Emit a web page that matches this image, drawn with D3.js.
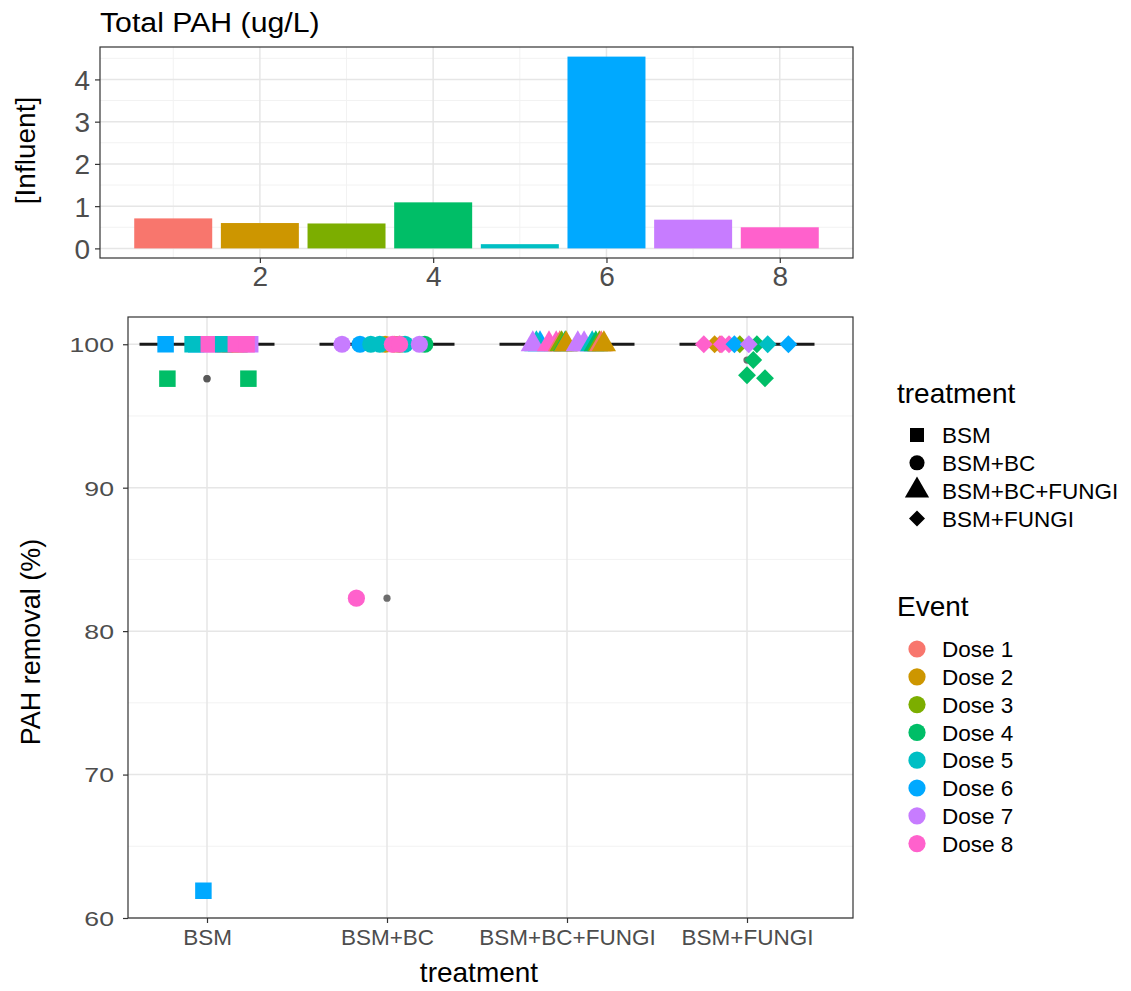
<!DOCTYPE html>
<html>
<head>
<meta charset="utf-8">
<script src="https://cdn.jsdelivr.net/npm/d3@7"></script>
<style>
  body { margin: 0; background: #fff; }
  svg { display: block; font-family: "Liberation Sans", Arial, sans-serif; }
</style>
</head>
<body>
<svg id="chart" width="1131" height="991"></svg>
<script>
// ---------------- DATA ----------------
const doses = ["Dose 1", "Dose 2", "Dose 3", "Dose 4", "Dose 5", "Dose 6", "Dose 7", "Dose 8"];
const doseColors = ["#F8766D", "#CD9600", "#7CAE00", "#00BE67", "#00BFC4", "#00A9FF", "#C77CFF", "#FF61CC"];
const doseNumbers = [1, 2, 3, 4, 5, 6, 7, 8];
const influentPAH = [0.71, 0.60, 0.59, 1.09, 0.10, 4.54, 0.68, 0.50];
const topXTicks = [2, 4, 6, 8];
const topYTicks = [0, 1, 2, 3, 4];

const treatments = ["BSM", "BSM+BC", "BSM+BC+FUNGI", "BSM+FUNGI"];
const removalYTicks = [60, 70, 80, 90, 100];

// points: dose index (1-8), horizontal jitter (fraction of category step), removal (%)
const bsmDose   = [2, 3, 1, 6, 7, 5, 8, 5, 7, 8, 8, 6, 4, 4, 6];
const bsmJitter = [0.10, 0.18, 0.13, -0.06, 0.03, -0.08, 0.01, 0.09, 0.24, 0.16, 0.22, -0.23, -0.22, 0.23, -0.02];
const bsmValue  = [100, 100, 100, 100, 100, 100, 100, 100, 100, 100, 100, 100, 97.6, 97.6, 61.9];

const bcDose   = [1, 2, 3, 4, 7, 6, 5, 5, 5, 7, 8, 8, 8];
const bcJitter = [0.04, -0.01, 0.07, 0.21, -0.25, -0.15, -0.09, -0.04, 0.10, 0.18, 0.03, 0.07, -0.17];
const bcValue  = [100, 100, 100, 100, 100, 100, 100, 100, 100, 100, 100, 100, 82.3];

const bcfDose   = [6, 5, 7, 8, 8, 1, 3, 4, 2, 7, 7, 5, 4, 3, 1, 2];
const bcfJitter = [-0.15, -0.17, -0.19, -0.10, -0.06, -0.04, -0.03, -0.01, -0.005, 0.06, 0.095, 0.14, 0.16, 0.18, 0.19, 0.205];
const bcfValue  = [100, 100, 100, 100, 100, 100, 100, 100, 100, 100, 100, 100, 100, 100, 100, 100];

const bfDose   = [3, 1, 2, 8, 8, 8, 6, 4, 7, 5, 6, 4, 4, 4];
const bfJitter = [-0.04, -0.15, -0.18, -0.24, -0.14, -0.10, -0.07, 0.055, 0.01, 0.115, 0.23, 0.035, 0.0, 0.10];
const bfValue  = [100, 100, 100, 100, 100, 100, 100, 100, 100, 100, 100, 98.9, 97.84, 97.63];

// ---------------- BUILD ----------------
const svg = d3.select("#chart");
const tickColor = "#4D4D4D";
const gridMajor = "#E6E6E6";
const gridMinor = "#F2F2F2";
const borderColor = "#333333";
const FONT = "'Liberation Sans', Arial, sans-serif";

// ===== TOP PANEL =====
const pT = { left: 100, right: 853, top: 47, bottom: 258 };
const xTop = d3.scaleLinear().domain([0.155, 8.845]).range([pT.left, pT.right]);
const yTop = d3.scaleLinear().domain([-0.2275, 4.7675]).range([pT.bottom, pT.top]);

const gTop = svg.append("g");
gTop.selectAll(".tminx").data([1, 3, 5, 7]).join("line")
  .attr("x1", d => xTop(d)).attr("x2", d => xTop(d))
  .attr("y1", pT.top).attr("y2", pT.bottom)
  .attr("stroke", gridMinor).attr("stroke-width", 1);
gTop.selectAll(".tminy").data([0.5, 1.5, 2.5, 3.5, 4.5]).join("line")
  .attr("x1", pT.left).attr("x2", pT.right)
  .attr("y1", d => yTop(d)).attr("y2", d => yTop(d))
  .attr("stroke", gridMinor).attr("stroke-width", 1);
gTop.selectAll(".tmajx").data(topXTicks).join("line")
  .attr("x1", d => xTop(d)).attr("x2", d => xTop(d))
  .attr("y1", pT.top).attr("y2", pT.bottom)
  .attr("stroke", gridMajor).attr("stroke-width", 1.5);
gTop.selectAll(".tmajy").data(topYTicks).join("line")
  .attr("x1", pT.left).attr("x2", pT.right)
  .attr("y1", d => yTop(d)).attr("y2", d => yTop(d))
  .attr("stroke", gridMajor).attr("stroke-width", 1.5);

gTop.selectAll("rect.bar").data(influentPAH).join("rect")
  .attr("class", "bar")
  .attr("x", (d, i) => xTop(doseNumbers[i] - 0.45))
  .attr("width", (d, i) => xTop(doseNumbers[i] + 0.45) - xTop(doseNumbers[i] - 0.45))
  .attr("y", d => yTop(d))
  .attr("height", d => yTop(0) - yTop(d))
  .attr("fill", (d, i) => doseColors[i]);

gTop.append("rect")
  .attr("x", pT.left).attr("y", pT.top)
  .attr("width", pT.right - pT.left).attr("height", pT.bottom - pT.top)
  .attr("fill", "none").attr("stroke", borderColor).attr("stroke-width", 1.2);

const axTopX = gTop.append("g").attr("transform", `translate(0,${pT.bottom})`)
  .call(d3.axisBottom(xTop).tickValues(topXTicks).tickSize(5).tickPadding(3).tickFormat(d3.format("d")));
const axTopY = gTop.append("g").attr("transform", `translate(${pT.left},0)`)
  .call(d3.axisLeft(yTop).tickValues(topYTicks).tickSize(5).tickPadding(5).tickFormat(d3.format("d")));
[axTopX, axTopY].forEach(ax => {
  ax.select(".domain").remove();
  ax.selectAll(".tick line").attr("stroke", borderColor).attr("stroke-width", 1.2);
  ax.selectAll(".tick text").attr("fill", tickColor).style("font-size", "28px").style("font-family", FONT);
});
axTopY.selectAll(".tick text").attr("dy", "0.36em");

svg.append("text").attr("transform", "translate(100,32) scale(1.12,1)")
  .style("font-size", "27px").attr("fill", "#000").text("Total PAH (ug/L)");
svg.append("text")
  .attr("transform", `translate(35,${(pT.top + pT.bottom) / 2 - 2}) rotate(-90)`)
  .attr("text-anchor", "middle")
  .style("font-size", "28px").attr("fill", "#000").text("[Influent]");

// ===== BOTTOM PANEL =====
const pB = { left: 128, right: 853, top: 317, bottom: 918 };
const xBot = d3.scalePoint().domain(treatments).range([207, 747]);
const step = xBot.step();
const yBot = d3.scaleLinear().domain([60.0, 101.9]).range([pB.bottom, pB.top]);

const gBot = svg.append("g");
gBot.selectAll(".bminy").data([65, 75, 85, 95]).join("line")
  .attr("x1", pB.left).attr("x2", pB.right)
  .attr("y1", d => yBot(d)).attr("y2", d => yBot(d))
  .attr("stroke", gridMinor).attr("stroke-width", 1);
gBot.selectAll(".bmajy").data(removalYTicks).join("line")
  .attr("x1", pB.left).attr("x2", pB.right)
  .attr("y1", d => yBot(d)).attr("y2", d => yBot(d))
  .attr("stroke", gridMajor).attr("stroke-width", 1.5);
gBot.selectAll(".bmajx").data(treatments).join("line")
  .attr("x1", d => xBot(d)).attr("x2", d => xBot(d))
  .attr("y1", pB.top).attr("y2", pB.bottom)
  .attr("stroke", gridMajor).attr("stroke-width", 1.5);

const groups = [
  { t: treatments[0], dose: bsmDose, jit: bsmJitter, val: bsmValue, shape: "square" },
  { t: treatments[1], dose: bcDose, jit: bcJitter, val: bcValue, shape: "circle" },
  { t: treatments[2], dose: bcfDose, jit: bcfJitter, val: bcfValue, shape: "triangle" },
  { t: treatments[3], dose: bfDose, jit: bfJitter, val: bfValue, shape: "diamond" }
];

groups.forEach(g => {
  const v = g.val.slice().sort(d3.ascending);
  const q1 = d3.quantile(v, 0.25), q3 = d3.quantile(v, 0.75), med = d3.quantile(v, 0.5);
  const iqr = q3 - q1;
  const lo = q1 - 1.5 * iqr, hi = q3 + 1.5 * iqr;
  const inside = v.filter(d => d >= lo && d <= hi);
  const wLo = d3.min(inside), wHi = d3.max(inside);
  const cx = xBot(g.t), half = 0.375 * step;
  gBot.append("line").attr("x1", cx).attr("x2", cx).attr("y1", yBot(wHi)).attr("y2", yBot(q3))
    .attr("stroke", "#333").attr("stroke-width", 1.2);
  gBot.append("line").attr("x1", cx).attr("x2", cx).attr("y1", yBot(wLo)).attr("y2", yBot(q1))
    .attr("stroke", "#333").attr("stroke-width", 1.2);
  gBot.append("rect").attr("x", cx - half).attr("width", 2 * half)
    .attr("y", yBot(q3)).attr("height", Math.max(0, yBot(q1) - yBot(q3)))
    .attr("fill", "#fff").attr("stroke", "#333").attr("stroke-width", 1.2);
  gBot.append("line").attr("x1", cx - half).attr("x2", cx + half)
    .attr("y1", yBot(med)).attr("y2", yBot(med))
    .attr("stroke", "#1a1a1a").attr("stroke-width", 3.2);
  gBot.selectAll(null).data(v.filter(d => d < lo || d > hi)).join("circle")
    .attr("cx", cx).attr("cy", d => yBot(d)).attr("r", 3.6)
    .attr("fill", "#555").attr("opacity", 0.85);
});

function symPath(shape, scale) {
  const s = scale || 1;
  if (shape === "square") return d3.symbol(d3.symbolSquare, 16.5 * 16.5 * s * s)();
  if (shape === "circle") return d3.symbol(d3.symbolCircle, Math.PI * 8.6 * 8.6 * s * s)();
  if (shape === "triangle") return d3.symbol(d3.symbolTriangle, 255 * s * s)();
  if (shape === "diamond") return d3.symbol(d3.symbolSquare, 12.6 * 12.6 * s * s)();
}

groups.forEach(g => {
  const pts = g.val.map((v, i) => ({ v, dose: g.dose[i], j: g.jit[i] }));
  gBot.selectAll(null).data(pts).join("path")
    .attr("d", symPath(g.shape))
    .attr("transform", d => `translate(${xBot(g.t) + d.j * step},${yBot(d.v)})` + (g.shape === "diamond" ? " rotate(45)" : ""))
    .attr("fill", d => doseColors[d.dose - 1]);
});

gBot.append("rect")
  .attr("x", pB.left).attr("y", pB.top)
  .attr("width", pB.right - pB.left).attr("height", pB.bottom - pB.top)
  .attr("fill", "none").attr("stroke", borderColor).attr("stroke-width", 1.2);

const axBotX = gBot.append("g").attr("transform", `translate(0,${pB.bottom})`)
  .call(d3.axisBottom(xBot).tickSize(5).tickPadding(6));
const axBotY = gBot.append("g").attr("transform", `translate(${pB.left},0)`)
  .call(d3.axisLeft(yBot).tickValues(removalYTicks).tickSize(5).tickPadding(8).tickFormat(d3.format("d")));
[axBotX, axBotY].forEach(ax => {
  ax.select(".domain").remove();
  ax.selectAll(".tick line").attr("stroke", borderColor).attr("stroke-width", 1.2);
  ax.selectAll(".tick text").attr("fill", tickColor).style("font-family", FONT);
});
axBotX.selectAll(".tick text").style("font-size", "22.5px");
const ySx = 1.3;
axBotY.selectAll(".tick text").style("font-size", "20.5px").attr("dy", "0.36em")
  .attr("x", -14 / ySx).attr("transform", `scale(${ySx},1)`);

svg.append("text").attr("x", 479).attr("y", 982)
  .attr("text-anchor", "middle").style("font-size", "28px").attr("fill", "#000").text("treatment");
svg.append("text")
  .attr("transform", `translate(40,642) rotate(-90)`)
  .attr("text-anchor", "middle").style("font-size", "27px").attr("fill", "#000").text("PAH removal (%)");

// ===== LEGENDS =====
const lg = svg.append("g");
const keyX = 917, labX = 942, rowH = 27.8;
lg.append("text").attr("x", 897).attr("y", 403).style("font-size", "28px").attr("fill", "#000").text("treatment");
const shapes = ["square", "circle", "triangle", "diamond"];
const legScale = [0.85, 0.88, 1.0, 0.9];
treatments.forEach((t, i) => {
  const y = 435 + i * rowH;
  lg.append("path").attr("d", symPath(shapes[i], legScale[i]))
    .attr("transform", `translate(${keyX},${y})` + (shapes[i] === "diamond" ? " rotate(45)" : ""))
    .attr("fill", "#000");
  lg.append("text").attr("x", labX).attr("y", y).attr("dy", "0.36em")
    .style("font-size", "22.5px").attr("fill", "#000").text(t);
});
lg.append("text").attr("x", 897).attr("y", 616).style("font-size", "28px").attr("fill", "#000").text("Event");
doses.forEach((d, i) => {
  const y = 649 + i * rowH;
  lg.append("circle").attr("cx", keyX).attr("cy", y).attr("r", 8.6).attr("fill", doseColors[i]);
  lg.append("text").attr("x", labX).attr("y", y).attr("dy", "0.36em")
    .style("font-size", "22.5px").attr("fill", "#000").text(d);
});
</script>
</body>
</html>
